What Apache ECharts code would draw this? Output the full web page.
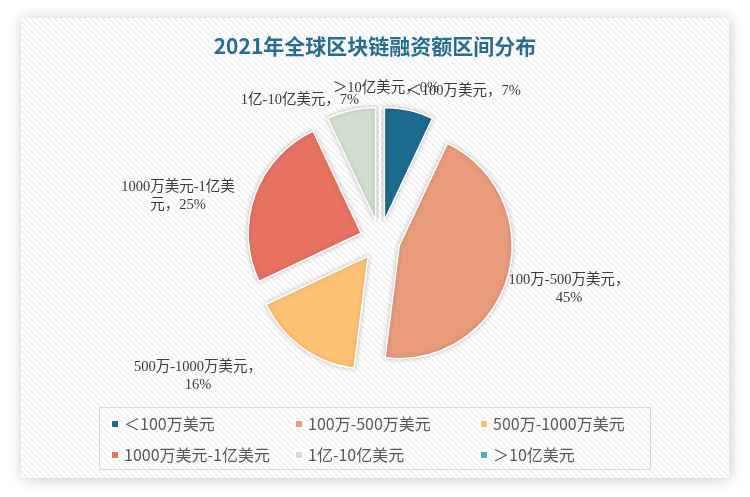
<!DOCTYPE html>
<html>
<head>
<meta charset="utf-8">
<script src="https://cdn.jsdelivr.net/npm/echarts@6/dist/echarts.min.js"></script>
<style>
html,body{margin:0;padding:0;background:#fff;}
#main{width:750px;height:497px;}
</style>
</head>
<body>
<div id="main"></div>
<script>
// ---- data ----
var categories = ['＜100万美元', '100万-500万美元', '500万-1000万美元', '1000万美元-1亿美元', '1亿-10亿美元', '＞10亿美元'];
var shares = [7, 45, 16, 25, 7, 0];
var colors = ['#1C6C8F', '#E89C7B', '#FFC274', '#E97261', '#D2DFCE', '#4BB0C0'];
var titleText = '2021年全球区块链融资额区间分布';

// ---- label placement (layout only) ----
var labelCfg = [
  { x: 464, y: 91, br: -1 },
  { x: 569, y: 289, br: 12 },
  { x: 198, y: 376, br: 13 },
  { x: 178, y: 196, br: 11 },
  { x: 300, y: 100, br: -1 },
  { x: 386, y: 88, br: -1 }
];

// stripe pattern
var pc = document.createElement('canvas');
pc.width = 6; pc.height = 6;
var pctx = pc.getContext('2d');
pctx.fillStyle = '#ffffff';
pctx.fillRect(0, 0, 6, 6);
pctx.strokeStyle = 'rgba(0,0,0,0.055)';
pctx.lineWidth = 1.6;
pctx.beginPath();
pctx.moveTo(-1, -1); pctx.lineTo(7, 7);
pctx.moveTo(-1, 5); pctx.lineTo(1, 7);
pctx.moveTo(5, -1); pctx.lineTo(7, 1);
pctx.stroke();

var chart = echarts.init(document.getElementById('main'));

var total = shares.reduce(function (a, b) { return a + b; }, 0);

var pieData = categories.map(function (c, i) {
  return { name: c, value: shares[i], selected: true, itemStyle: { color: colors[i] } };
});

var labelTexts = categories.map(function (c, i) {
  var s = c + '，' + Math.round(shares[i] / total * 100) + '%';
  var b = labelCfg[i].br;
  if (b > 0) s = s.slice(0, b) + '\n' + s.slice(b);
  return {
    type: 'text', z: 100,
    style: {
      text: s, x: labelCfg[i].x, y: labelCfg[i].y,
      align: 'center', verticalAlign: 'middle',
      font: '14.5px "Liberation Serif", "Noto Sans CJK SC"',
      lineHeight: 18, fill: '#3b3b3b'
    }
  };
});

function legendFor(idx, left) {
  return {
    orient: 'vertical',
    left: left,
    top: 411,
    icon: 'rect',
    itemWidth: 8,
    itemHeight: 8,
    itemGap: 15,
    selectedMode: false,
    data: idx.map(function (i) { return categories[i]; }),
    textStyle: { fontFamily: 'Noto Sans CJK SC', fontSize: 16, color: '#595959', lineHeight: 16 }
  };
}

var option = {
  animation: false,
  color: colors,
  graphic: [
    {
      type: 'rect', z: -10,
      shape: { x: 21, y: 18, width: 708, height: 460 },
      style: {
        fill: { image: pc, repeat: 'repeat' },
        shadowBlur: 14, shadowColor: 'rgba(0,0,0,0.22)', shadowOffsetX: 1, shadowOffsetY: 1
      }
    },
    {
      type: 'rect', z: -5,
      shape: { x: 99.5, y: 407.5, width: 551, height: 62 },
      style: { fill: 'transparent', stroke: '#d9d9d9', lineWidth: 1 }
    }
  ].concat(labelTexts),
  title: {
    text: titleText,
    left: 'center',
    top: 31,
    textStyle: { fontFamily: 'Noto Sans CJK SC', fontWeight: 'bold', fontSize: 21, color: '#256F8F' }
  },
  legend: [legendFor([0, 3], 105), legendFor([1, 4], 289), legendFor([2, 5], 474)],
  series: [{
    type: 'pie',
    center: [380, 240],
    radius: 113,
    startAngle: 90,
    clockwise: true,
    selectedMode: 'multiple',
    selectedOffset: 20,
    emphasis: { disabled: true },
    itemStyle: { borderColor: '#ffffff', borderWidth: 1.5, shadowBlur: 5, shadowColor: 'rgba(0,0,0,0.22)' },
    label: { show: false },
    labelLine: { show: false },
    data: pieData
  }]
};
chart.setOption(option);
</script>
</body>
</html>
